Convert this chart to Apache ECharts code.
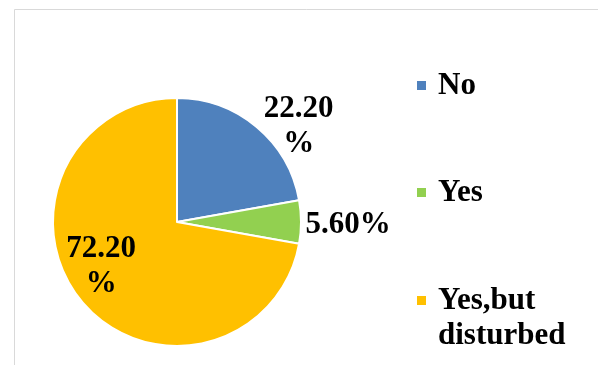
<!DOCTYPE html>
<html>
<head>
<meta charset="utf-8">
<script src="https://cdn.jsdelivr.net/npm/echarts@6/dist/echarts.min.js"></script>
<style>
  html, body { margin: 0; padding: 0; background: #ffffff; }
  #chart { width: 598px; height: 365px; }
</style>
</head>
<body>
<div id="chart"></div>
<script>
// Answer categories and their shares (percent)
const categories = ['No', 'Yes', 'Yes,but\ndisturbed'];
const shares = [22.2, 5.6, 72.2];
const valueLabels = ['22.20\n%', '5.60%', '72.20\n%'];
const colors = ['#4F81BD', '#92D050', '#FFC000'];

// Label offsets relative to each slice's inner anchor point
const labelOffsets = [[80, -46], [106, 3], [-26, 3]];
// Vertical position of each legend entry
const legendTops = [68, 175, 248];

const FONT = '"Liberation Serif", "Times New Roman", serif';

const chart = echarts.init(document.getElementById('chart'), null, { renderer: 'canvas' });

const seriesData = categories.map((name, i) => ({
  name: name,
  value: shares[i],
  itemStyle: { color: colors[i] },
  label: { offset: labelOffsets[i] }
}));

// One legend block per entry; a leading blank line keeps the marker
// of the two-line entry level with its first line
const legends = categories.map((name, i) => ({
  orient: 'vertical',
  left: 415,
  top: legendTops[i],
  padding: 0,
  itemWidth: 11,
  itemHeight: 11,
  icon: 'rect',
  selectedMode: false,
  data: [name],
  formatter: (n) => (n.indexOf('\n') >= 0 ? ' \n' + n : n),
  textStyle: {
    fontFamily: FONT,
    fontWeight: 'bold',
    fontSize: 31,
    lineHeight: 35,
    color: '#000000',
    padding: [0, 0, 0, 6]
  }
}));

chart.setOption({
  animation: false,
  backgroundColor: '#ffffff',
  graphic: [{
    type: 'rect',
    left: 12, top: 7,
    shape: { width: 620, height: 420 },
    style: { fill: 'none', stroke: '#d9d9d9', lineWidth: 1 },
    silent: true
  }],
  legend: legends,
  series: [{
    type: 'pie',
    center: [177, 222],
    radius: 124,
    startAngle: 90,
    clockwise: true,
    avoidLabelOverlap: false,
    itemStyle: { borderColor: '#ffffff', borderWidth: 2 },
    label: {
      show: true,
      position: 'inside',
      formatter: (p) => valueLabels[p.dataIndex],
      fontFamily: FONT,
      fontWeight: 'bold',
      fontSize: 31,
      lineHeight: 35,
      color: '#000000'
    },
    labelLine: { show: false },
    emphasis: { disabled: true },
    data: seriesData
  }]
});
</script>
</body>
</html>
